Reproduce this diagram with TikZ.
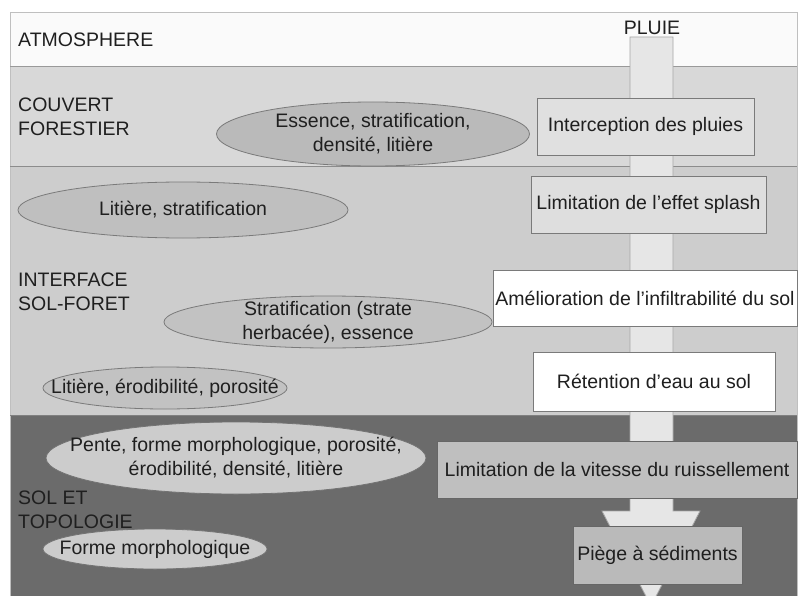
\documentclass[tikz,border=0pt]{standalone}
\usepackage{fontspec}
\setmainfont{Liberation Sans}
\usetikzlibrary{shapes.geometric, positioning}
\definecolor{atmo}{HTML}{FAFAFA}
\definecolor{couvert}{HTML}{D8D8D8}
\definecolor{interf}{HTML}{CDCDCD}
\definecolor{sol}{HTML}{6B6B6B}
\definecolor{pluie}{HTML}{E6E6E6}
\definecolor{trait}{HTML}{7A7A7A}

\begin{document}
\begin{tikzpicture}[x=1pt, y=-1pt,
  font=\fontsize{19.5}{24}\selectfont,
  couche/.style={anchor=west, align=left, inner sep=0pt, text=black!88},
  facteur/.style={ellipse, draw=trait, line width=0.8pt, inner sep=0pt},
  etiq/.style={align=center, inner sep=0pt, text=black!88},
  effet/.style={rectangle, draw=trait, line width=0.8pt, inner sep=0pt, align=center, text=black!88}]
\useasboundingbox (0,0) rectangle (810,596);
\clip (0,0) rectangle (810,596);
%
% les couches
\fill[white] (0,0) rectangle (810,596);
\fill[atmo] (10,12) rectangle (797,66);
\fill[couvert] (10,66) rectangle (797,166);
\fill[interf] (10,166) rectangle (797,415);
\fill[sol] (10,415) rectangle (797,600);
\draw[black!25] (10,600) -- (10,12) -- (797,12) -- (797,600);
\draw[black!40] (10,66) -- (797,66);
\draw[black!45] (10,166) -- (797,166);
\draw[black!50] (10,415) -- (797,415);

\node[couche] (atmo) at (18,40) {ATMOSPHERE};
\node[couche] (couv) at (18,117) {COUVERT\\FORESTIER};
\node[couche] (intf) at (18,292) {INTERFACE\\SOL-FORET};
\node[couche] (sol) at (18,510) {SOL ET\\TOPOLOGIE};

% la pluie
\node[inner sep=0pt, text=black!88] (pluie) at (652,28) {PLUIE};
\coordinate (p1) at (630,37);
\coordinate (p2) at (673,37);
\coordinate (p3) at (673,511);
\coordinate (p4) at (700,511);
\coordinate (p5) at (651,606);
\coordinate (p6) at (602,511);
\coordinate (p7) at (630,511);
\filldraw[fill=pluie, draw=black!35, line width=0.8pt]
  (p1) -- (p2) -- (p3) -- (p4) -- (p5) -- (p6) -- (p7) -- cycle;

% les effets
\node[effet, fill=black!12, minimum width=217, minimum height=57] (interc) at (645.5,126.5) {Interception des pluies};
\node[effet, fill=black!13, minimum width=235, minimum height=57] (splash) at (648.5,204.5) {Limitation de l'effet splash};
\node[effet, fill=white, minimum width=304, minimum height=56] (infil) at (645,298) {Amélioration de l'infiltrabilité du sol};
\node[effet, fill=white, minimum width=242, minimum height=59] (reten) at (654,381.5) {Rétention d'eau au sol};
\node[effet, fill=black!25, draw=black!60, minimum width=360, minimum height=57] (vitesse) at (617,469.5) {Limitation de la vitesse du ruissellement};
\node[effet, fill=black!27, draw=black!60, minimum width=169, minimum height=58] (piege) at (657.5,555) {Piège à sédiments};

% les facteurs
\node[facteur, fill=black!27, minimum width=313, minimum height=64,
  label={[etiq]center:{Essence, stratification,\\densité, litière}}] (ess) at (373,134) {};
\node[facteur, fill=black!25, minimum width=330, minimum height=56,
  label={[etiq]center:{Litière, stratification}}] (litstr) at (183,210) {};
\node[facteur, fill=black!24, minimum width=328, minimum height=52,
  label={[etiq]center:{Stratification (strate\\herbacée), essence}}] (strat) at (328,322) {};
\node[facteur, fill=black!24, minimum width=244, minimum height=42,
  label={[etiq]center:{Litière, érodibilité, porosité}}] (litero) at (165,388) {};
\node[facteur, fill=black!20, draw=black!55, minimum width=380, minimum height=72,
  label={[etiq]center:{Pente, forme morphologique, porosité,\\érodibilité, densité, litière}}] (pente) at (236,458) {};
\node[facteur, fill=black!20, draw=black!55, minimum width=224, minimum height=40,
  label={[etiq]center:{Forme morphologique}}] (forme) at (155,549) {};
%
\end{tikzpicture}
\end{document}
